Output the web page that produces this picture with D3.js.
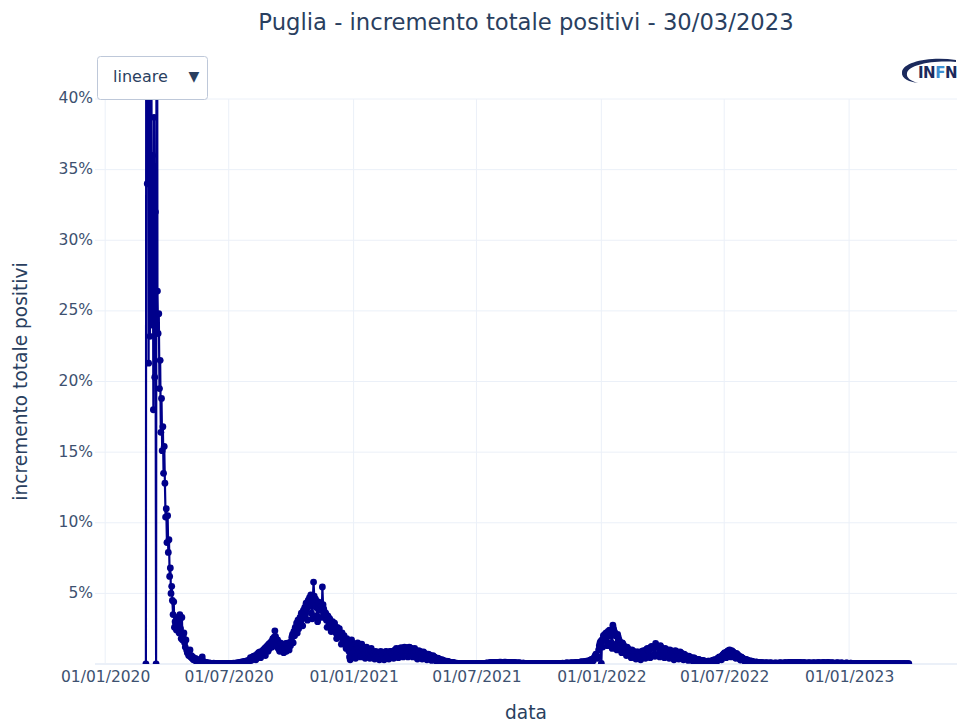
<!DOCTYPE html>
<html><head><meta charset="utf-8">
<script src="https://cdn.jsdelivr.net/npm/d3@7"></script>
<style>
body{margin:0;background:#fff;}
svg{display:block;font-family:"DejaVu Sans",sans-serif;}
</style>
</head><body>
<svg id="chart" width="960" height="726"></svg>
<script>
// ---------- DATA ----------
const titleText = "Puglia - incremento totale positivi - 30/03/2023";
const xAxisTitle = "data";
const yAxisTitle = "incremento totale positivi";
const menuLabel = "lineare";
const xTickDates = ["2020-01-01","2020-07-01","2021-01-01","2021-07-01","2022-01-01","2022-07-01","2023-01-01"];
const yTickValues = [5,10,15,20,25,30,35,40];

// daily % increment, 2020 series starts 2020-03-01
const start2020 = "2020-03-01";
const values2020 = [
 // Mar
 0,100,34,66.7,21.3,60,23.2,52,45,24,36,18,38.7,20.3,32,0,80,
 26.4,23.4,24.8,19.5,21.5,16.4,18.8,15.1,16.8,13.5,15.4,12.8,10.4,11.0,
 // Apr
 8.6,10.5,7.9,8.8,6.2,6.8,5.0,5.5,4.5,3.5,4.4,2.6,3.0,2.8,2.4,3.3,2.6,2.9,2.2,3.5,2.5,1.8,3.3,1.7,2.0,2.2,1.5,1.2,1.7,1.0,
 // May
 0.8,0.9,0.6,0.7,1.0,0.5,0.6,0.4,0.5,0.3,0.4,0.3,0.4,0.2,0.3,0.25,0.2,0.3,0.15,0.2,0.3,0.12,0.5,0.2,0.1,0.15,0.1,0.12,0.08,0.1,0.06,
 // Jun
 0.05,0.08,0.04,0.06,0.03,0.05,0.02,0.04,0.06,0.03,0.05,0.02,0.03,0.04,0.02,0.05,0.03,0.04,0.02,0.03,0.05,0.02,0.03,0.04,0.02,0.03,0.05,0.03,0.02,0.04,
 // Jul
 0.03,0.05,0.02,0.04,0.03,0.05,0.04,0.06,0.03,0.05,0.04,0.07,0.05,0.08,0.06,0.1,0.08,0.12,0.1,0.14,0.09,0.15,0.12,0.18,0.14,0.2,0.16,0.22,0.18,0.25,0.2,
 // Aug
 0.3,0.45,0.25,0.4,0.5,0.35,0.55,0.4,0.6,0.3,0.55,0.7,0.5,0.8,0.6,0.85,0.45,0.75,0.9,0.7,1.0,0.8,1.1,0.6,1.2,1.0,1.3,0.9,1.4,1.1,1.5,
 // Sep
 1.3,1.6,1.2,1.8,1.5,1.9,2.35,1.95,1.6,1.4,1.7,1.1,1.3,0.9,1.5,1.2,1.4,1.0,1.3,0.8,1.2,1.1,1.45,0.9,1.3,1.2,1.5,1.0,1.4,1.3,
 // Oct
 1.6,1.9,2.1,1.5,2.3,2.0,2.6,2.4,2.9,2.2,3.1,2.5,2.8,3.3,3.0,3.6,3.2,2.7,3.8,3.4,4.0,3.6,4.3,3.9,3.1,4.5,4.1,4.7,4.4,4.9,3.6,
 // Nov
 3.2,4.6,5.8,4.8,4.3,4.6,4.0,3.4,3.0,4.4,4.0,4.3,3.8,4.1,3.3,5.45,4.2,3.9,3.7,3.5,3.6,3.1,2.6,3.4,3.3,3.0,3.2,2.9,2.3,2.8,
 // Dec
 3.0,2.7,2.5,2.9,2.4,2.2,1.8,2.6,2.3,2.1,2.5,2.0,1.9,1.4,2.2,1.9,1.7,2.0,1.6,1.5,1.1,1.8,1.6,1.4,0.9,0.5,0.3,1.2,1.7,1.5,1.3
];

const start2021 = "2021-01-01";
const values2021 = [
 0.6,0.9,0.5,0.4,1.3,1.1,1.5,1.2,1.0,0.8,0.5,1.2,1.4,1.1,1.0,0.9,0.7,0.4,1.1,1.2,1.0,0.9,0.8,0.6,0.4,1.0,1.1,0.9,0.8,0.75,0.6,
 0.35,0.9,0.8,0.85,0.75,0.7,0.55,0.3,0.8,0.9,0.75,0.8,0.65,0.5,0.3,0.8,0.85,0.9,0.7,0.75,0.6,0.35,0.85,0.9,0.8,0.9,0.75,0.6,
 0.4,0.9,1.0,0.95,1.1,0.9,0.7,0.45,1.0,1.1,1.0,1.15,0.95,0.7,0.5,1.05,1.2,1.1,1.0,1.15,0.9,0.5,1.1,1.2,1.15,1.05,1.1,0.85,0.5,1.05,1.0,
 1.1,0.95,0.9,0.6,0.35,0.6,0.95,0.85,0.9,0.8,0.7,0.35,0.8,0.85,0.7,0.75,0.7,0.55,0.3,0.65,0.7,0.6,0.65,0.55,0.45,0.25,0.55,0.6,0.5,0.5,
 0.45,0.35,0.2,0.4,0.42,0.38,0.35,0.3,0.25,0.15,0.3,0.28,0.25,0.22,0.2,0.15,0.1,0.2,0.18,0.16,0.15,0.14,0.1,0.07,0.12,0.11,0.1,0.09,0.08,0.07,0.05,
 0.04,0.06,0.05,0.05,0.04,0.03,0.02,0.04,0.04,0.03,0.04,0.03,0.03,0.02,0.03,0.03,0.03,0.02,0.02,0.02,0.01,0.02,0.02,0.02,0.02,0.02,0.02,0.01,0.02,0.02,
 0.02,0.02,0.03,0.02,0.01,0.03,0.03,0.04,0.04,0.04,0.03,0.02,0.05,0.05,0.06,0.06,0.07,0.05,0.04,0.08,0.09,0.09,0.1,0.1,0.08,0.06,0.11,0.12,0.11,0.12,0.1,
 0.1,0.07,0.12,0.13,0.12,0.13,0.12,0.1,0.07,0.12,0.13,0.12,0.13,0.12,0.1,0.06,0.11,0.12,0.11,0.11,0.1,0.09,0.06,0.1,0.1,0.09,0.09,0.08,0.07,0.05,0.08,
 0.08,0.07,0.07,0.06,0.05,0.04,0.06,0.06,0.06,0.05,0.05,0.04,0.03,0.05,0.05,0.05,0.04,0.04,0.04,0.03,0.04,0.04,0.04,0.04,0.03,0.03,0.02,0.03,0.04,0.03,
 0.03,0.03,0.03,0.02,0.03,0.03,0.03,0.03,0.03,0.03,0.02,0.03,0.03,0.03,0.03,0.03,0.03,0.02,0.03,0.03,0.04,0.04,0.04,0.03,0.02,0.04,0.04,0.04,0.04,0.04,0.03,
 0.03,0.05,0.05,0.05,0.06,0.05,0.04,0.05,0.06,0.06,0.07,0.07,0.06,0.05,0.04,0.07,0.08,0.08,0.08,0.08,0.07,0.05,0.09,0.1,0.1,0.1,0.11,0.09,0.07,0.12,
 0.13,0.14,0.14,0.15,0.13,0.1,0.16,0.17,0.18,0.2,0.2,0.18,0.14,0.22,0.25,0.27,0.3,0.32,0.3,0.22,0.4,0.5,0.6,0.7,0.55,0.4,0.5,1.0,1.3,1.5,1.6
];

const start2022 = "2022-01-01";
const values2022 = [
 0.05,1.7,1.2,2.0,1.9,2.1,1.8,2.2,1.6,1.3,2.3,2.0,2.4,2.2,2.1,1.5,1.1,2.75,2.5,2.3,2.2,2.0,1.4,1.0,2.1,1.9,1.7,1.6,1.5,1.1,0.8,
 1.5,1.4,1.3,1.2,1.1,0.8,0.6,1.2,1.1,1.0,0.95,0.9,0.6,0.45,1.0,0.95,0.9,0.85,0.8,0.5,0.35,0.85,0.8,0.85,0.8,0.75,0.5,0.3,
 0.85,0.9,0.9,0.95,0.85,0.55,0.4,1.0,1.05,1.1,1.0,0.95,0.6,0.45,1.2,1.25,1.2,1.15,1.1,0.7,0.55,1.45,1.3,1.25,1.2,1.15,0.75,0.5,1.3,1.2,1.1,
 1.05,1.0,0.65,0.45,1.1,1.05,1.0,0.95,0.9,0.6,0.4,1.0,0.95,0.9,0.85,0.7,0.45,0.3,0.5,0.95,0.9,0.85,0.8,0.55,0.35,0.4,0.85,0.8,0.75,0.7,
 0.5,0.3,0.7,0.65,0.6,0.55,0.55,0.35,0.25,0.55,0.5,0.45,0.45,0.4,0.3,0.2,0.45,0.4,0.38,0.35,0.3,0.22,0.15,0.33,0.3,0.28,0.26,0.24,0.17,0.12,0.25,
 0.22,0.2,0.18,0.17,0.12,0.1,0.2,0.2,0.19,0.2,0.18,0.14,0.11,0.25,0.27,0.28,0.3,0.28,0.2,0.17,0.38,0.42,0.45,0.5,0.45,0.35,0.3,0.6,0.65,0.7,
 0.75,0.8,0.6,0.45,0.85,0.9,0.95,0.9,1.0,0.65,0.5,0.95,0.9,0.85,0.8,0.75,0.5,0.4,0.75,0.7,0.65,0.6,0.55,0.35,0.28,0.5,0.45,0.42,0.38,0.35,0.22,
 0.17,0.33,0.3,0.28,0.25,0.22,0.15,0.12,0.22,0.2,0.18,0.17,0.15,0.12,0.07,0.08,0.14,0.13,0.12,0.11,0.09,0.06,0.1,0.1,0.09,0.09,0.08,0.06,0.05,0.08,0.08,
 0.08,0.08,0.07,0.05,0.04,0.07,0.07,0.07,0.06,0.06,0.04,0.03,0.06,0.07,0.06,0.06,0.06,0.04,0.03,0.07,0.07,0.07,0.07,0.06,0.05,0.04,0.08,0.08,0.09,0.08,
 0.08,0.06,0.05,0.1,0.11,0.11,0.11,0.1,0.07,0.05,0.12,0.12,0.12,0.11,0.11,0.07,0.05,0.11,0.11,0.1,0.1,0.09,0.06,0.04,0.09,0.09,0.08,0.08,0.07,0.05,0.04,
 0.07,0.07,0.08,0.08,0.07,0.05,0.04,0.08,0.08,0.08,0.08,0.07,0.05,0.04,0.08,0.09,0.09,0.08,0.08,0.06,0.04,0.08,0.09,0.09,0.09,0.08,0.06,0.04,0.09,0.09,
 0.09,0.09,0.08,0.06,0.05,0.09,0.08,0.07,0.06,0.06,0.05,0.04,0.08,0.08,0.07,0.07,0.06,0.04,0.03,0.07,0.07,0.06,0.06,0.05,0.02,0.02,0.06,0.07,0.06,0.06,0.05
];

const start2023 = "2023-01-01";
const values2023 = [
 0.03,0.02,0.06,0.06,0.05,0.05,0.04,0.03,0.02,0.05,0.05,0.05,0.04,0.04,0.03,0.02,0.04,0.04,0.04,0.04,0.03,0.02,0.02,0.04,0.03,0.03,0.03,0.03,0.02,0.02,0.03,
 0.03,0.03,0.03,0.02,0.02,0.02,0.03,0.03,0.03,0.03,0.02,0.02,0.02,0.03,0.03,0.03,0.02,0.02,0.02,0.01,0.02,0.02,0.02,0.02,0.02,0.01,0.01,0.02,
 0.02,0.02,0.02,0.02,0.01,0.01,0.02,0.02,0.02,0.02,0.02,0.01,0.01,0.02,0.02,0.02,0.02,0.01,0.01,0.01,0.02,0.02,0.02,0.02,0.01,0.01,0.01,0.02,0.02,0.02
];

// ---------- BUILD ----------
const parse = d3.utcParse("%Y-%m-%d");
function series(start, vals){
  const s = parse(start);
  return vals.map((v,i)=>({date:d3.utcDay.offset(s,i), value:v}));
}
const data = [].concat(
  series(start2020, values2020),
  series(start2021, values2021),
  series(start2022, values2022),
  series(start2023, values2023)
);

const svg = d3.select("#chart");
const W = 960, H = 726;
const plot = {left:95, right:957, top:99, bottom:664};
const textColor = "#2a3f5f";
const gridColor = "#ebf0f8";
const lineColor = "#00008b";

const x = d3.scaleUtc()
  .domain([parse("2019-12-17"), parse("2023-06-09")])
  .range([plot.left, plot.right]);
const y = d3.scaleLinear().domain([0,40]).range([plot.bottom, plot.top]);

svg.append("rect").attr("width",W).attr("height",H).attr("fill","#fff");

// grid
const xt = xTickDates.map(parse);
svg.append("g").selectAll("line").data(xt).join("line")
  .attr("x1",d=>x(d)).attr("x2",d=>x(d))
  .attr("y1",plot.top).attr("y2",plot.bottom)
  .attr("stroke",gridColor).attr("stroke-width",1);
svg.append("g").selectAll("line").data(yTickValues).join("line")
  .attr("x1",plot.left).attr("x2",plot.right)
  .attr("y1",d=>y(d)).attr("y2",d=>y(d))
  .attr("stroke",gridColor).attr("stroke-width",1);
svg.append("line").attr("x1",plot.left).attr("x2",plot.right)
  .attr("y1",y(0)).attr("y2",y(0)).attr("stroke",gridColor).attr("stroke-width",2);

// axes
const fmt = d3.utcFormat("%d/%m/%Y");
const gx = svg.append("g").attr("transform",`translate(0,${plot.bottom})`)
  .call(d3.axisBottom(x).tickValues(xt).tickFormat(fmt).tickSize(0).tickPadding(7));
gx.select(".domain").remove();
gx.selectAll("text").attr("fill","#3d5170").style("font-size","15.5px").style("font-family","DejaVu Sans");

const gy = svg.append("g").attr("transform",`translate(${plot.left},0)`)
  .call(d3.axisLeft(y).tickValues(yTickValues).tickFormat(d=>d+"%").tickSize(0).tickPadding(2));
gy.select(".domain").remove();
gy.selectAll("text").attr("fill","#3d5170").attr("dy","0.25em").style("font-size","15.5px").style("font-family","DejaVu Sans");

// clip
svg.append("clipPath").attr("id","clip").append("rect")
  .attr("x",plot.left).attr("y",plot.top)
  .attr("width",plot.right-plot.left).attr("height",plot.bottom-plot.top);

const g = svg.append("g").attr("clip-path","url(#clip)");
const line = d3.line().x(d=>x(d.date)).y(d=>y(d.value));
g.append("path").datum(data).attr("d",line)
  .attr("fill","none").attr("stroke",lineColor).attr("stroke-width",2.2).attr("stroke-linejoin","round");
g.append("g").selectAll("circle").data(data).join("circle")
  .attr("cx",d=>x(d.date)).attr("cy",d=>y(d.value)).attr("r",3.4).attr("fill",lineColor);

// titles
svg.append("text").attr("x",526).attr("y",30).attr("text-anchor","middle")
  .attr("fill",textColor).style("font-size","22.7px").text(titleText);
svg.append("text").attr("x",526).attr("y",719).attr("text-anchor","middle")
  .attr("fill",textColor).style("font-size","18.6px").text(xAxisTitle);
svg.append("text").attr("transform",`translate(27,${(plot.top+plot.bottom)/2}) rotate(-90)`)
  .attr("text-anchor","middle").attr("fill",textColor).style("font-size","18.6px").text(yAxisTitle);

// dropdown menu
const menu = svg.append("g");
menu.append("rect").attr("x",97.5).attr("y",56.5).attr("width",110).attr("height",43).attr("rx",3)
  .attr("fill","#fff").attr("stroke","#bec8d9").attr("stroke-width",1);
menu.append("text").attr("x",113).attr("y",81.5).attr("fill",textColor).style("font-size","16px").text(menuLabel);
menu.append("text").attr("x",194).attr("y",81).attr("text-anchor","middle").attr("fill",textColor).style("font-size","14px").text("▼");

// INFN logo
const logo = svg.append("g");
logo.append("path")
  .attr("d","M956,60 C930,56 903,62 902,72 C901,79 910,82 918,83 C911,81 906,78 907,73 C909,65 932,60 956,62 Z")
  .attr("fill","#1b2a5c");
const lt = logo.append("text").attr("x",918).attr("y",78).style("font-size","15px").style("font-weight","bold")
  .attr("letter-spacing","-0.5");
lt.append("tspan").attr("fill","#1b2a5c").text("IN");
lt.append("tspan").attr("fill","#3d8fd1").text("F");
lt.append("tspan").attr("fill","#1b2a5c").text("N");
</script>
</body></html>
